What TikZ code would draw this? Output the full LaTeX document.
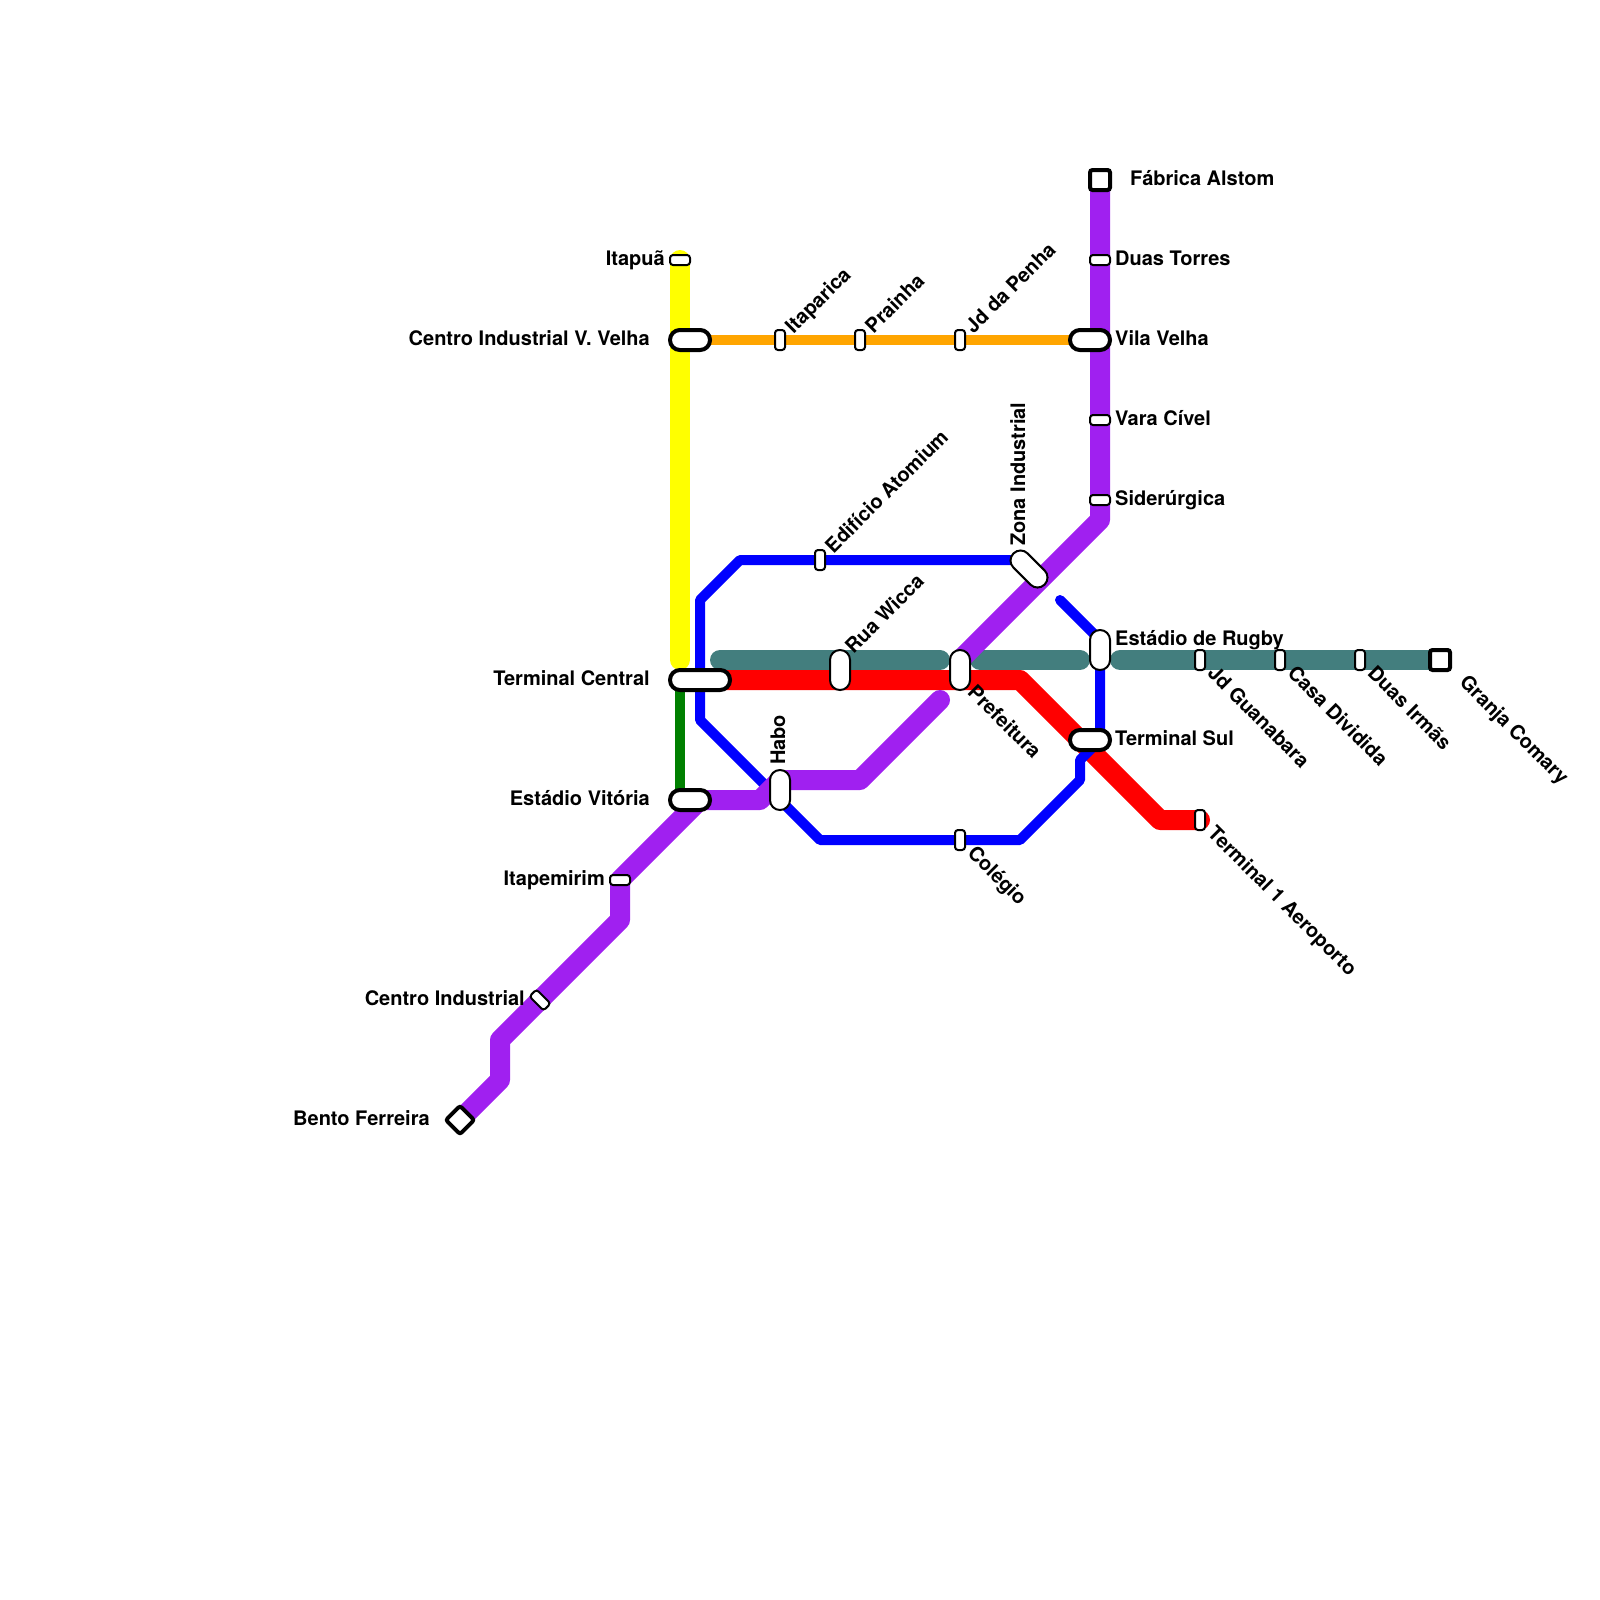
\documentclass[tikz,border=0pt]{standalone}
\usepackage{fontspec}
\setmainfont{TeX Gyre Heros}
\usetikzlibrary{positioning, backgrounds}
\definecolor{lineyellow}{RGB}{255,255,0}
\definecolor{lineteal}{RGB}{67,126,126}
\definecolor{linepurple}{RGB}{160,32,240}
\definecolor{lineorange}{RGB}{255,165,0}
\definecolor{linegreen}{RGB}{0,128,0}
\definecolor{linered}{RGB}{255,0,0}
\definecolor{lineblue}{RGB}{0,0,255}

\begin{document}
\begin{tikzpicture}[
      x=1pt, y=-1pt, on grid,
      station/.style={rectangle, draw=black, fill=white, line width=2pt, inner sep=0pt, outer sep=0pt},
      smallv/.style={station, rounded corners=3pt, minimum width=10pt, minimum height=20pt},
      smallh/.style={station, rounded corners=3pt, minimum width=20pt, minimum height=10pt},
      pillv/.style={station, rounded corners=9.9pt, minimum width=20pt, minimum height=40pt},
      pillh/.style={station, line width=4pt, rounded corners=9.9pt, minimum width=40pt, minimum height=20pt},
      endsq/.style={station, line width=4pt, rounded corners=2.5pt, minimum size=20pt},
      lab/.style={inner sep=0pt, font=\fontsize{20}{24}\selectfont\bfseries, text height=15pt, text depth=5pt},
      labl/.style={lab, anchor=east},
      labr/.style={lab, anchor=west},
      labup/.style={lab, anchor=west, rotate=45},
      labdown/.style={lab, anchor=west, rotate=-45},
      labv/.style={lab, anchor=west, rotate=90},
      route/.style={line cap=round, line join=round},
      thin route/.style={route, line width=10pt},
      fat route/.style={route, line width=20pt}
    ]
    \useasboundingbox (0,0) rectangle (1600,1600);

    % Estacoes
    \node (tcentral) [pillh, minimum width=60pt] at (700,680) {};
    \node (vitoria) [pillh, below left=120pt and 10pt of tcentral] {};
    \node (cvvelha) [pillh, above=460pt of vitoria] {};
    \node (itapua) [smallh, above left=80pt and 10pt of cvvelha] {};
    \node (itaparica) [smallv, right=90pt of cvvelha] {};
    \node (prainha) [smallv, right=80pt of itaparica] {};
    \node (penha) [smallv, right=100pt of prainha] {};
    \node (vvelha) [pillh, right=130pt of penha] {};
    \node (alstom) [endsq, above right=160pt and 10pt of vvelha] {};
    \node (torres) [smallh, above right=80pt and 10pt of vvelha] {};
    \node (vara) [smallh, below right=80pt and 10pt of vvelha] {};
    \node (siderurgica) [smallh, below=80pt of vara] {};
    \node (tsul) [pillh, below=400pt of vvelha] {};
    \node (rugby) [pillv, above right=90pt and 10pt of tsul] {};
    \node (zona) [pillv, minimum height=44pt, rotate=45, above left=81pt and 71pt of rugby] {};
    \node (atomium) [smallv, above left=9pt and 209pt of zona] {};
    \node (wicca) [pillv, above right=10pt and 140pt of tcentral] {};
    \node (prefeitura) [pillv, right=120pt of wicca] {};
    \node (habo) [pillv, below left=120pt and 60pt of wicca] {};
    \node (colegio) [smallv, below=170pt of prefeitura] {};
    \node (guanabara) [smallv, below right=10pt and 100pt of rugby] {};
    \node (dividida) [smallv, right=80pt of guanabara] {};
    \node (irmas) [smallv, right=80pt of dividida] {};
    \node (granja) [endsq, right=80pt of irmas] {};
    \node (aeroporto) [smallv, below right=80pt and 110pt of tsul] {};
    \node (itapemirim) [smallh, below left=80pt and 70pt of vitoria] {};
    \node (cindustrial) [smallh, rotate=-45, below left=120pt and 80pt of itapemirim] {};
    \node (bento) [endsq, rotate=45, below left=120pt and 80pt of cindustrial] {};

    % Nomes
    \node (l1) [left=15pt of itapua, labl] {Itapuã};
    \node (l2) [left=40pt of cvvelha, labl] {Centro Industrial V. Velha};
    \node (l3) [left=50pt of tcentral, labl] {Terminal Central};
    \node (l4) [left=40pt of vitoria, labl] {Estádio Vitória};
    \node (l5) [left=15pt of itapemirim, labl] {Itapemirim};
    \node (l6) [left=15pt of cindustrial, labl] {Centro Industrial};
    \node (l7) [left=30pt of bento, labl] {Bento Ferreira};
    \node (l8) [right=30pt of alstom, labr] {Fábrica Alstom};
    \node (l9) [right=15pt of torres, labr] {Duas Torres};
    \node (l10) [right=25pt of vvelha, labr] {Vila Velha};
    \node (l11) [right=15pt of vara, labr] {Vara Cível};
    \node (l12) [right=15pt of siderurgica, labr] {Siderúrgica};
    \node (l13) [above right=10pt and 15pt of rugby, labr] {Estádio de Rugby};
    \node (l14) [right=25pt of tsul, labr] {Terminal Sul};
    \node (l15) [above right=9pt and 10pt of itaparica, labup] {Itaparica};
    \node (l16) [above right=9pt and 10pt of prainha, labup] {Prainha};
    \node (l17) [above right=9pt and 10pt of penha, labup] {Jd da Penha};
    \node (l18) [above right=9pt and 10pt of atomium, labup] {Edifício Atomium};
    \node (l19) [above right=19pt and 10pt of wicca, labup] {Rua Wicca};
    \node (l20) [above=25pt of habo, labv] {Habo};
    \node (l21) [above left=23pt and 9pt of zona, labv] {Zona Industrial};
    \node (l22) [below right=20pt and 10pt of prefeitura, labdown] {Prefeitura};
    \node (l23) [below right=11pt and 10pt of colegio, labdown] {Colégio};
    \node (l24) [below right=11pt and 10pt of guanabara, labdown] {Jd Guanabara};
    \node (l25) [below right=11pt and 10pt of dividida, labdown] {Casa Dividida};
    \node (l26) [below right=11pt and 10pt of irmas, labdown] {Duas Irmãs};
    \node (l27) [below right=20pt and 22pt of granja, labdown] {Granja Comary};
    \node (l28) [below right=11pt and 10pt of aeroporto, labdown] {Terminal 1 Aeroporto};

    % Pontos de curva
    \coordinate (yfim) at (680,660);
    \coordinate (gtop) at (680,680);
    \coordinate (gfim) at (680,800);
    \coordinate (ta) at (720,660);
    \coordinate (tb) at (940,660);
    \coordinate (tc) at (980,660);
    \coordinate (td) at (1080,660);
    \coordinate (te) at (1120,660);
    \coordinate (r1) at (1020,680);
    \coordinate (r2) at (1160,820);
    \coordinate (b0) at (1020,560);
    \coordinate (b1) at (740,560);
    \coordinate (b2) at (700,600);
    \coordinate (b3) at (700,720);
    \coordinate (b4) at (820,840);
    \coordinate (b5) at (1020,840);
    \coordinate (b6) at (1080,780);
    \coordinate (b7) at (1080,760);
    \coordinate (b8) at (1100,740);
    \coordinate (b9) at (1100,640);
    \coordinate (b10) at (1060,600);
    \coordinate (p1) at (500,1080);
    \coordinate (p2) at (500,1040);
    \coordinate (p3) at (620,920);
    \coordinate (p4) at (700,800);
    \coordinate (p5) at (760,800);
    \coordinate (p6) at (780,780);
    \coordinate (p7) at (860,780);
    \coordinate (p8) at (940,700);
    \coordinate (p9) at (960,660);
    \coordinate (p10) at (1100,520);

    % Linhas
    \begin{scope}[on background layer]
      \draw [fat route, lineyellow] (itapua.center) -- (yfim);
      \draw [thin route, linegreen] (gtop) -- (gfim);
      \draw [thin route, lineorange] (cvvelha.center) -- (vvelha.center);
      \draw [fat route, lineteal] (ta) -- (tb);
      \draw [fat route, lineteal] (tc) -- (td);
      \draw [fat route, lineteal] (te) -- (granja.center);
      \draw [fat route, linered] (tcentral.center) -- (r1) -- (r2) -- (aeroporto.center);
      \draw [thin route, lineblue] (b0) -- (b1) -- (b2) -- (b3) -- (b4) -- (b5) -- (b6) -- (b7) -- (b8) -- (b9) -- (b10);
      \draw [fat route, linepurple] (bento.center) -- (p1) -- (p2) -- (p3) -- (itapemirim.center) -- (p4) -- (p5) -- (p6) -- (p7) -- (p8);
      \draw [fat route, linepurple] (p9) -- (p10) -- (alstom.center);
    \end{scope}
  \end{tikzpicture}
\end{document}
